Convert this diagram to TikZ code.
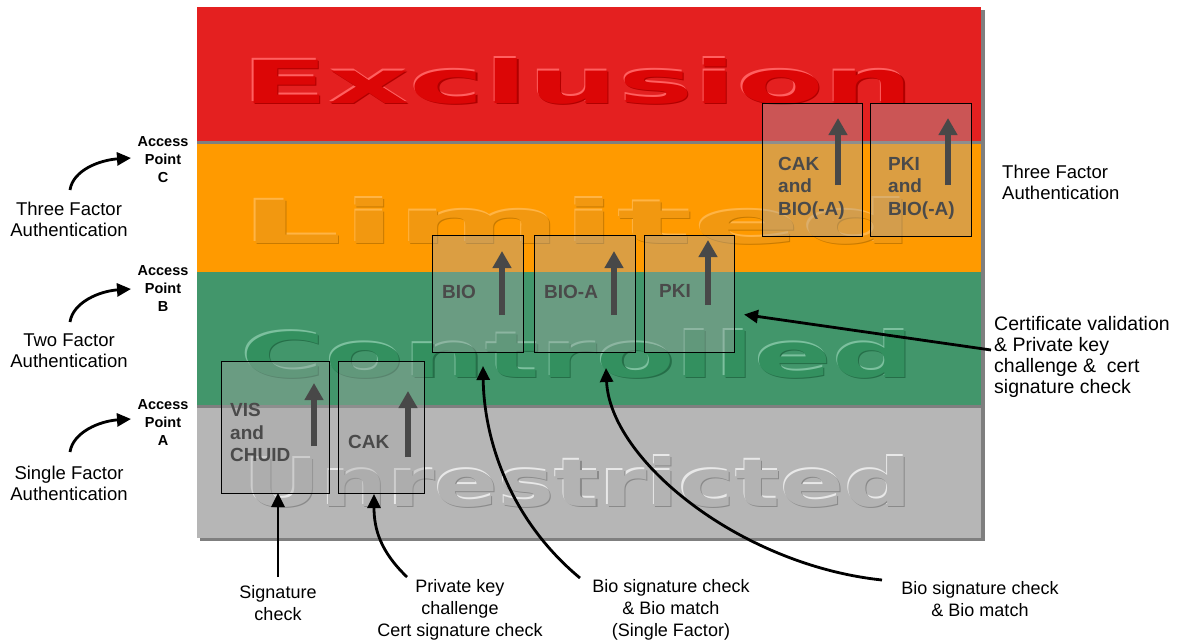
\documentclass[tikz,border=0pt]{standalone}
\usepackage{fontspec}
\setmainfont{Liberation Sans}
\newfontfamily\wmfont{DejaVu Sans}
\usetikzlibrary{arrows.meta,calc}
\definecolor{bandred}{HTML}{E42020}
\definecolor{bandorange}{HTML}{FF9A00}
\definecolor{bandgreen}{HTML}{42966B}
\definecolor{bandgrey}{HTML}{B6B6B6}
\definecolor{shadowgrey}{HTML}{7F7F7F}
\definecolor{redface}{HTML}{DC0606}
\definecolor{redlight}{HTML}{FF6060}
\definecolor{reddark}{HTML}{B00000}
\definecolor{orface}{HTML}{F29810}
\definecolor{orlight}{HTML}{FFB445}
\definecolor{ordark}{HTML}{C87A00}
\definecolor{grface}{HTML}{33905F}
\definecolor{grlight}{HTML}{7CC09E}
\definecolor{grdark}{HTML}{256E48}
\definecolor{gyface}{HTML}{B3B3B3}
\definecolor{gylight}{HTML}{E8E8E8}
\definecolor{gydark}{HTML}{8A8A8A}
\definecolor{boxtxt}{HTML}{4A4A4A}
\definecolor{uparr}{HTML}{484848}
\newcommand\mywm[9]{%
  \node[wm, text=#8] (#1l) at (#2-1.1,#3-1.1) {\resizebox{#4pt}{#5pt}{\wmfont\bfseries #6}};
  \node[wm, text=#9] (#1d) at (#2+1.1,#3+1.1) {\resizebox{#4pt}{#5pt}{\wmfont\bfseries #6}};
  \node[wm, text=#7] (#1) at (#2,#3) {\resizebox{#4pt}{#5pt}{\wmfont\bfseries #6}};
}
\begin{document}
\begin{tikzpicture}[x=1pt,y=-1pt,
  wm/.style={anchor=north west, inner sep=0pt, outer sep=0pt},
  abox/.style={draw=black, line width=0.9pt, fill=gray!70, fill opacity=0.4,
     inner sep=0pt, outer sep=0pt, anchor=north west},
  boxlabel/.style={text=boxtxt, font=\bfseries\fontsize{19}{22.5}\selectfont,
     align=left, inner sep=0pt, anchor=west},
  uparrow/.style={draw=uparr, line width=6pt, -{Triangle[length=17pt,width=18pt]}},
  conn/.style={draw=black, line width=2.8pt, -{Triangle[length=14pt,width=13pt]}},
  aplabel/.style={font=\bfseries\fontsize{14.5}{18}\selectfont, align=center, inner sep=0pt},
  sidelabel/.style={font=\fontsize{18.5}{21}\selectfont, align=center, inner sep=0pt},
  rightlabel/.style={font=\fontsize{18.5}{21}\selectfont, align=left, inner sep=0pt, anchor=west},
  bottomlabel/.style={font=\fontsize{18}{22}\selectfont, align=center, inner sep=0pt}
]
\useasboundingbox (0,0) rectangle (1178,643);
\fill[white] (0,0) rectangle (1178,643);
% shadow
\fill[shadowgrey] (200,10) rectangle (985,541);
% bands
\fill[bandred] (197,7) rectangle (981,141);
\fill[bandorange] (197,141) rectangle (981,272);
\fill[bandgreen] (197,272) rectangle (981,405);
\fill[bandgrey] (197,405) rectangle (981,538);
\fill[shadowgrey] (197,141) rectangle (981,143.5);
\fill[shadowgrey] (197,405) rectangle (981,407.5);
% watermark words
\mywm{wmexcl}{242}{58}{672}{45}{Exclusion}{redface}{redlight}{reddark}
\mywm{wmlim}{241}{198}{673}{45}{Limited}{orface}{orlight}{ordark}
\mywm{wmctrl}{241}{330}{673}{47}{Controlled}{grface}{grlight}{grdark}
\mywm{wmunr}{244}{456}{668}{50}{Unrestricted}{gyface}{gylight}{gydark}
% boxes
\node[abox, minimum width=108pt, minimum height=132pt] (vis) at (221,361) {};
\node[abox, minimum width=86pt, minimum height=132pt] (cak) at (338,361) {};
\node[abox, minimum width=91pt, minimum height=117pt] (bio) at (432,235) {};
\node[abox, minimum width=101pt, minimum height=117pt] (bioa) at (534,235) {};
\node[abox, minimum width=90pt, minimum height=117pt] (pki) at (644,235) {};
\node[abox, minimum width=100pt, minimum height=133pt] (cak3) at (762,103) {};
\node[abox, minimum width=101pt, minimum height=133pt] (pki3) at (870,103) {};
% up arrows
\draw[uparrow] (314,446) -- (314,383);
\draw[uparrow] (408,457) -- (408,391);
\draw[uparrow] (502,315) -- (502,251);
\draw[uparrow] (614,315) -- (614,251);
\draw[uparrow] (708,305) -- (708,240);
\draw[uparrow] (838,185) -- (838,118);
\draw[uparrow] (948,185) -- (948,118);
% box labels
\node[boxlabel] (tvis) at (230,432.5) {VIS\\and\\CHUID};
\node[boxlabel] (tcak) at (348,442) {CAK};
\node[boxlabel] (tbio) at (442,292) {BIO};
\node[boxlabel] (tbioa) at (544,292) {BIO-A};
\node[boxlabel] (tpki) at (659,291) {PKI};
\node[boxlabel] (tcak3) at (778,188) {CAK\\and\\BIO(-A)};
\node[boxlabel] (tpki3) at (888,188) {PKI\\and\\BIO(-A)};
% left labels
\node[aplabel] (apc) at (163,160) {Access\\Point\\C};
\node[aplabel] (apb) at (163,289) {Access\\Point\\B};
\node[aplabel] (apa) at (163,423) {Access\\Point\\A};
\node[sidelabel] (tf3) at (69,219.5) {Three Factor\\Authentication};
\node[sidelabel] (tf2) at (69,351) {Two Factor\\Authentication};
\node[sidelabel] (tf1) at (69,483) {Single Factor\\Authentication};
\coordinate (c3s) at (70,190);
\coordinate (c3e) at (131,158);
\coordinate (c2s) at (70,322);
\coordinate (c2e) at (131,289);
\coordinate (c1s) at (70,452);
\coordinate (c1e) at (131,419);
\draw[conn] (c3s) .. controls (73,170) and (100,160) .. (c3e);
\draw[conn] (c2s) .. controls (73,302) and (100,291) .. (c2e);
\draw[conn] (c1s) .. controls (73,432) and (100,421) .. (c1e);
% right labels
\node[rightlabel] (rtf3) at (1002,182) {Three Factor\\Authentication};
\node[rightlabel, font=\fontsize{19.5}{21}\selectfont] (rcert) at (994,356.5) {Certificate validation\\\& Private key\\challenge \&\ \ cert\\signature check};
\coordinate (certs) at (991,350);
\draw[conn] (certs) -- ($(pki.east)+(10,21)$);
% bottom labels
\node[bottomlabel] (bsig) at (278,603) {Signature\\check};
\node[bottomlabel] (bpk) at (460,610) {Private key\\challenge\\Cert signature check};
\node[bottomlabel] (bbio1) at (671,610) {Bio signature check\\\& Bio match\\(Single Factor)};
\node[bottomlabel] (bbio2) at (980,599.5) {Bio signature check\\\& Bio match};
\coordinate (sigs) at (278,577);
\coordinate (pks) at (407,577);
\coordinate (b1s) at (580,578);
\coordinate (b2s) at (882,580);
\draw[conn] (sigs) -- (sigs |- vis.south);
\draw[conn] (pks) .. controls (381,552) and (374,530) .. ($(cak.south west)+(36,1)$);
\draw[conn] (b1s) .. controls (510,520) and (484,440) .. ($(bio.south west)+(51,14)$);
\draw[conn] (b2s) .. controls (740,565) and (610,460) .. ($(bioa.south west)+(72,16)$);
\end{tikzpicture}
\end{document}
